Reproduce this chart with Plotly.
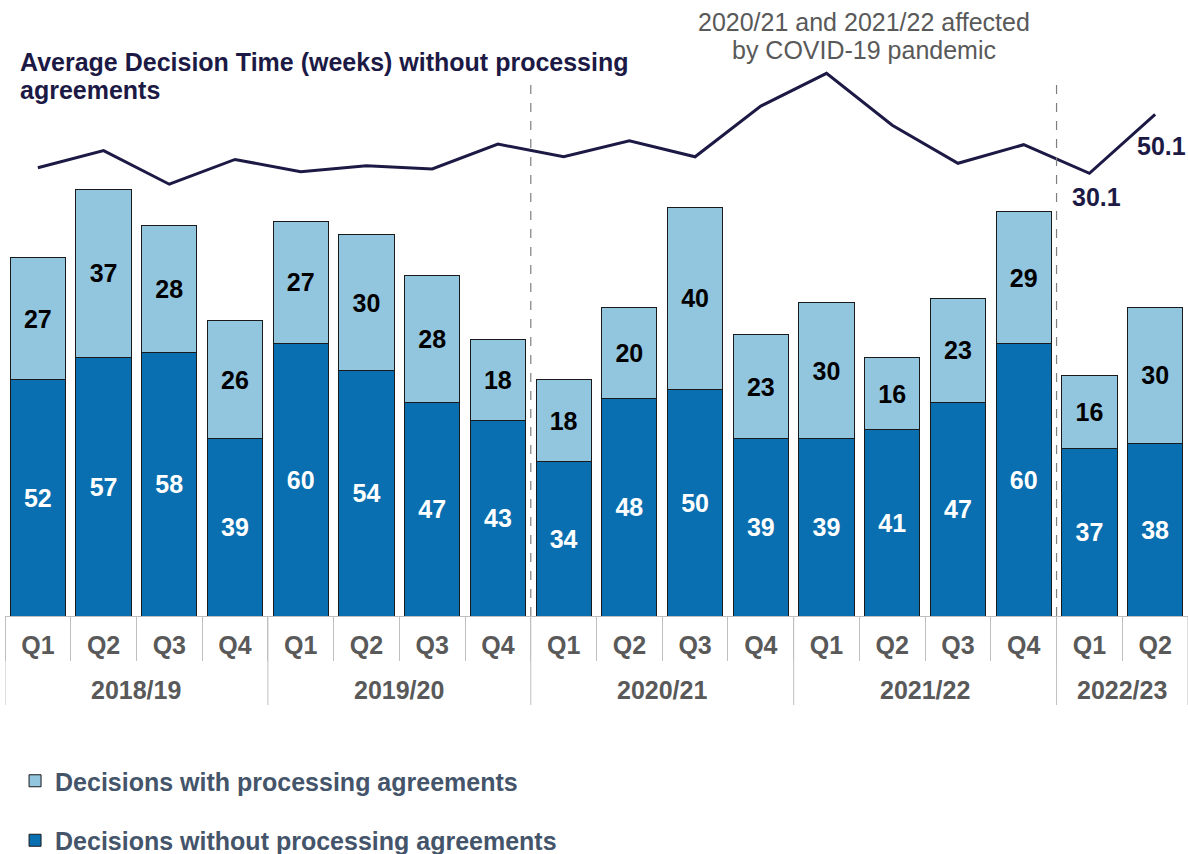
import plotly.graph_objects as go

years = ["2018/19"]*4 + ["2019/20"]*4 + ["2020/21"]*4 + ["2021/22"]*4 + ["2022/23"]*2
quarters = ["Q1", "Q2", "Q3", "Q4"]*4 + ["Q1", "Q2"]
without_pa = [52, 57, 58, 39, 60, 54, 47, 43, 34, 48, 50, 39, 39, 41, 47, 60, 37, 38]
with_pa = [27, 37, 28, 26, 27, 30, 28, 18, 18, 20, 40, 23, 30, 16, 23, 29, 16, 30]
avg_weeks = [32.0, 37.8, 26.4, 34.8, 30.6, 32.7, 31.6, 40.0, 35.7, 41.1, 35.7, 52.9,
             64.0, 46.4, 33.5, 39.8, 30.1, 50.1]
line_labels = [""]*16 + ["30.1", "50.1"]

DARK = "#0a6fb0"
LIGHT = "#92c5de"
NAVY = "#1c1a45"
GREY = "#595959"
AXC = "#bfbfbf"
FONT = "Liberation Sans, Arial, sans-serif"
FS = 25

idx = list(range(len(quarters)))

fig = go.Figure()
fig.add_trace(go.Bar(
    x=idx, y=without_pa, name="Decisions without processing agreements",
    marker=dict(color=DARK, line=dict(color="#1a1a1a", width=1)),
    text=without_pa, textposition="inside", insidetextanchor="middle",
    textfont=dict(color="white", size=FS, family=FONT, weight="bold"),
    legendrank=2, legendgroup="b", hoverinfo="skip"))
fig.add_trace(go.Bar(
    x=idx, y=with_pa, name="Decisions with processing agreements",
    marker=dict(color=LIGHT, line=dict(color="#1a1a1a", width=1)),
    text=with_pa, textposition="inside", insidetextanchor="middle",
    textfont=dict(color="black", size=FS, family=FONT, weight="bold"),
    legendrank=1, legendgroup="a", hoverinfo="skip"))
fig.add_trace(go.Scatter(
    x=idx, y=avg_weeks, yaxis="y2", mode="lines",
    line=dict(color=NAVY, width=3), showlegend=False, hoverinfo="skip"))

# value labels on the line
label_offsets = {16: (7, -24), 17: (6, -32)}
for i, lab in enumerate(line_labels):
    if lab:
        dx, dy = label_offsets[i]
        fig.add_annotation(x=idx[i], y=avg_weeks[i], xref="x", yref="y2",
                           xshift=dx, yshift=dy, showarrow=False, text=f"<b>{lab}</b>",
                           font=dict(color=NAVY, size=FS, family=FONT))

# plot area spans pixels 40..616 vertically (576 px)
PH = 576
def py(p):
    return (616 - p) / PH

# year labels and year dividers below the axis
groups = []
for i, yr in enumerate(years):
    if not groups or groups[-1][0] != yr:
        groups.append([yr, i, i])
    else:
        groups[-1][2] = i
bounds = [g[1] - 0.5 for g in groups] + [groups[-1][2] + 0.5]
for yr, a, b in groups:
    fig.add_annotation(x=(a + b) / 2, y=py(690), xref="x", yref="paper", showarrow=False,
                       text=f"<b>{yr}</b>", yanchor="middle",
                       font=dict(color=GREY, size=FS, family=FONT))
for bx in bounds:
    fig.add_shape(type="line", xref="x", yref="paper", x0=bx, x1=bx, y0=0, y1=py(705),
                  line=dict(color=AXC, width=1))

# dashed separators
for bx in [bounds[2], bounds[4]]:
    fig.add_shape(type="line", xref="x", yref="y", x0=bx, x1=bx, y0=0, y1=118,
                  line=dict(color="#7f7f7f", width=1.2, dash="dash"))

for txt, ypix in [("<b>Average Decision Time (weeks) without processing</b>", 62),
                  ("<b>agreements</b>", 90)]:
    fig.add_annotation(xref="paper", yref="paper", x=0.011, y=py(ypix),
                       xanchor="left", yanchor="middle", showarrow=False, text=txt,
                       font=dict(color=NAVY, size=FS, family=FONT))
for txt, ypix in [("2020/21 and 2021/22 affected", 22), ("by COVID-19 pandemic", 50)]:
    fig.add_annotation(xref="paper", yref="paper", x=0.726, y=py(ypix),
                       xanchor="center", yanchor="middle", showarrow=False, text=txt,
                       font=dict(color=GREY, size=FS, family=FONT))

fig.update_layout(
    width=1188, height=854, barmode="stack", bargap=0.16,
    margin=dict(l=5, r=0, t=40, b=238, autoexpand=False),
    plot_bgcolor="white", paper_bgcolor="white",
    font=dict(family=FONT),
    xaxis=dict(range=[-0.5, len(idx) - 0.5], tickmode="array", tickvals=idx, ticktext=quarters,
               showline=True, linecolor=AXC, linewidth=1, showgrid=False, zeroline=False,
               ticks="", ticklabelstandoff=7,
               minor=dict(tickmode="array", tickvals=[i - 0.5 for i in idx] + [idx[-1] + 0.5],
                          ticks="outside", ticklen=44, tickcolor=AXC, tickwidth=1, showgrid=False),
               tickfont=dict(color=GREY, size=FS, family=FONT, weight="bold")),
    yaxis=dict(range=[0, 126.87], visible=False, showgrid=False),
    yaxis2=dict(range=[-119.97, 75.29], overlaying="y", visible=False, showgrid=False),
    legend=dict(x=0.0085, y=py(758), xanchor="left", yanchor="top", orientation="v",
                traceorder="grouped", tracegroupgap=24,
                font=dict(color="#44546a", size=FS, family=FONT, weight="bold")),
    showlegend=True,
)

fig.write_html("out.html", config={"displayModeBar": False},
               post_script="document.body.style.margin='0';")
